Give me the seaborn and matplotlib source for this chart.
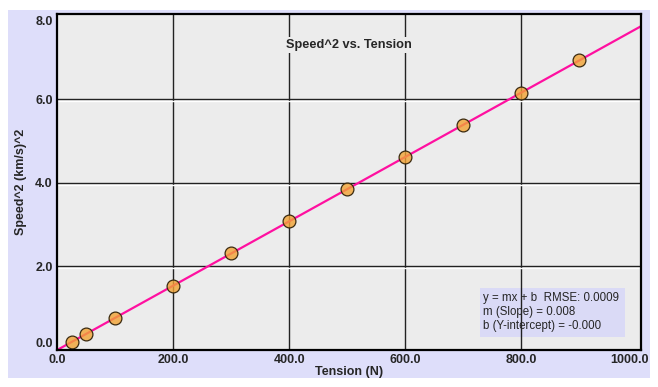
import numpy as np
import pandas as pd
import seaborn as sns
import matplotlib.pyplot as plt
import matplotlib.transforms as mtransforms
from matplotlib.patches import Rectangle

# data
tension = [25, 50, 100, 200, 300, 400, 500, 600, 700, 800, 900]
speed_sq = [0.19, 0.38, 0.77, 1.54, 2.31, 3.08, 3.85, 4.62, 5.39, 6.16, 6.93]
x_ticks = [0, 200, 400, 600, 800, 1000]
x_labels = ["0.0", "200.0", "400.0", "600.0", "800.0", "1000.0"]
y_ticks = [0, 2, 4, 6, 8]
y_labels = ["0.0", "2.0", "4.0", "6.0", "8.0"]
fit_text = "y = mx + b  RMSE: 0.0009\nm (Slope) = 0.008\nb (Y-intercept) = -0.000"

df = pd.DataFrame({"Tension": tension, "Speed2": speed_sq})

sns.set_style("white")
plt.rcParams["font.family"] = ["Liberation Sans", "DejaVu Sans"]

W, H = 658, 387
fig = plt.figure(figsize=(W / 100, H / 100), dpi=100, facecolor="white")

# lavender panel behind the plot
fig.patches.append(Rectangle((8 / W, 1 - 378 / H), 642 / W, 368 / H,
                             transform=fig.transFigure, facecolor="#dedefa",
                             edgecolor="none", zorder=-5))

ax = fig.add_axes([57 / W, 1 - 350 / H, 584 / W, 336 / H])
ax.set_facecolor("#ececec")
ax.set_xlim(0, 1006)
ax.set_ylim(0, 8.04)

# fit results box (grid shows through it)
ax.add_patch(Rectangle((423 / 584, 13 / 336), 145 / 584, 49 / 336,
                       transform=ax.transAxes, facecolor="#dadaf6",
                       edgecolor="none", zorder=0.5))

# grid (dark line with a white line under it)
off = mtransforms.ScaledTranslation(0, -1.2 / 72, fig.dpi_scale_trans)
for xv in x_ticks[1:-1]:
    ax.axvline(xv, color="#222222", lw=1.0, zorder=1)
for yv in y_ticks[1:-1]:
    ax.axhline(yv, color="#222222", lw=1.0, zorder=1)
    ax.plot([0, 1], [yv, yv], color="white", lw=1.0, zorder=1,
            transform=ax.get_yaxis_transform() + off)

# fit line
m, b = np.polyfit(tension, speed_sq, 1)
xs = np.array([0, 1006])
ax.plot(xs, m * xs + b, color="#ff10a0", lw=1.6, zorder=2)

sns.scatterplot(data=df, x="Tension", y="Speed2", ax=ax, s=85,
                color=(0.95, 0.64, 0.2, 0.8), edgecolor="#3a2a10",
                linewidth=0.9, zorder=3, legend=False)

ax.set_xticks(x_ticks)
ax.set_xticklabels(x_labels, fontsize=9, fontweight="bold")
ax.set_yticks(y_ticks)
ax.set_yticklabels(y_labels, fontsize=9, fontweight="bold")
ax.tick_params(length=0, pad=3)
ax.get_yticklabels()[0].set_va("bottom")
ax.get_yticklabels()[-1].set_va("top")
lab = ax.get_xticklabels()[-1]
lab.set_transform(lab.get_transform() + mtransforms.ScaledTranslation(-8 / 100, 0, fig.dpi_scale_trans))

ax.set_xlabel("Tension (N)", fontsize=9, fontweight="bold", labelpad=0)
ax.set_ylabel("Speed^2 (km/s)^2", fontsize=9, fontweight="bold", labelpad=6)

for s in ax.spines.values():
    s.set_color("black")
    s.set_linewidth(1.6)
    s.set_zorder(5)

ax.text(0.5, 0.908, "Speed^2 vs. Tension", transform=ax.transAxes,
        ha="center", va="center", fontsize=9.2, fontweight="bold", zorder=4,
        bbox=dict(facecolor="#ececec", edgecolor="none", pad=1.5))

ax.text(426 / 584, (350 - 312) / 336, fit_text, transform=ax.transAxes,
        ha="left", va="center", fontsize=8.3, linespacing=1.18, zorder=4.5)

fig.savefig("out.png", dpi=100, facecolor="white")
